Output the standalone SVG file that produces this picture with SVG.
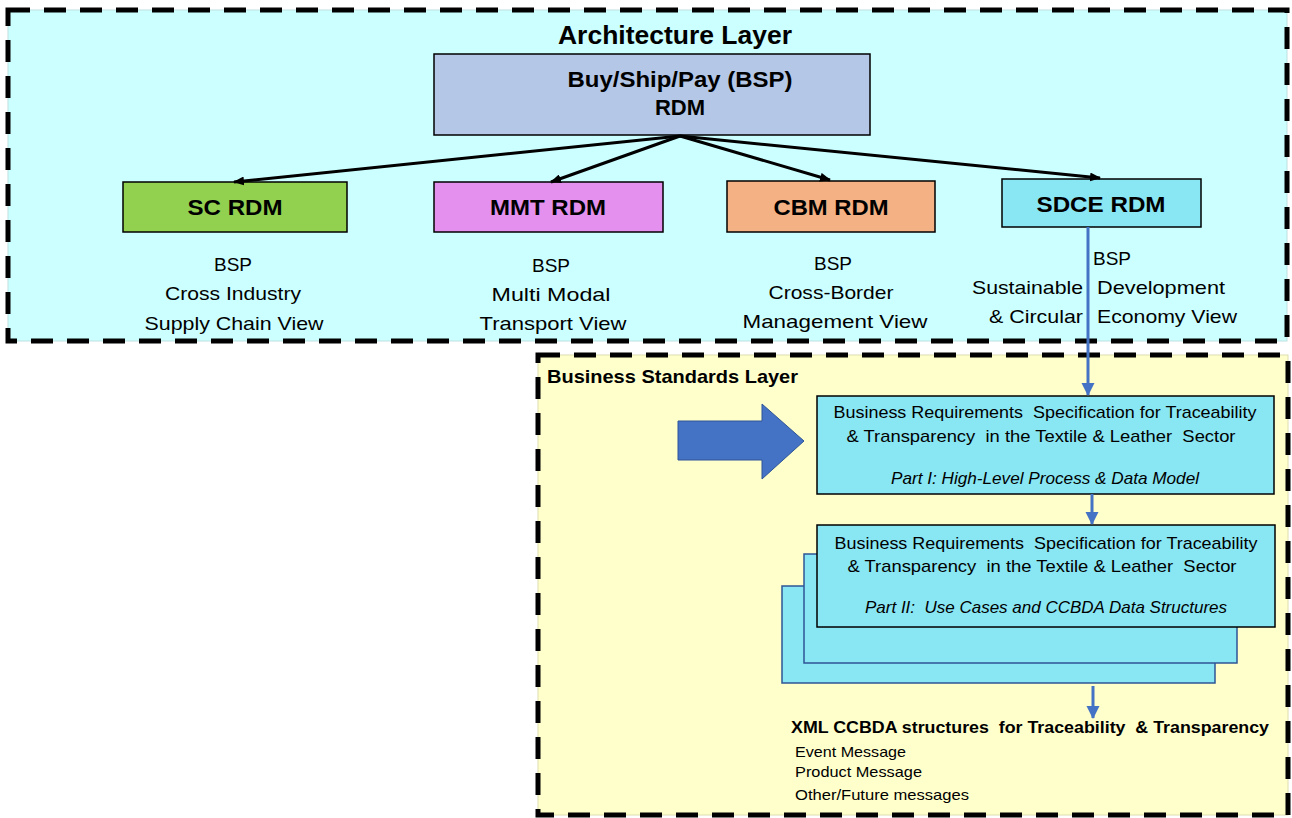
<svg xmlns="http://www.w3.org/2000/svg" width="1292" height="818" viewBox="0 0 1292 818">
<style>
.layer{stroke:#000;stroke-width:5;stroke-dasharray:22 14;}
.cal{font-family:"Liberation Sans",Arial,sans-serif;fill:#000;}
.calb{font-family:"Liberation Sans",Arial,sans-serif;font-weight:bold;fill:#000;}
.box{stroke:#000;stroke-width:1.5;}
.lbl{font-family:"Liberation Sans",Arial,sans-serif;font-weight:bold;font-size:22px;fill:#000;text-anchor:middle;}
.nar{font-family:"Liberation Sans Narrow","Liberation Sans",Arial,sans-serif;font-size:17px;fill:#000;white-space:pre;}
.view{font-size:19px;text-anchor:middle;}
.msg{font-size:15px;}
.cyan{fill:#89E6F3;}
</style>
<defs>
<marker id="ak" markerWidth="11" markerHeight="9" refX="10" refY="4.5" orient="auto" markerUnits="userSpaceOnUse">
<path d="M0,0 L11,4.5 L0,9 z" fill="#000"/>
</marker>
<marker id="ab" markerWidth="13" markerHeight="14" refX="12" refY="6.5" orient="auto" markerUnits="userSpaceOnUse">
<path d="M0,0 L13,6.5 L0,13 z" fill="#4472C4"/>
</marker>
</defs>

<g id="architecture-layer">
<rect x="8" y="10" width="1279" height="331" fill="#CCFFFF" stroke="#BFE0E0" stroke-width="1"/>
<rect x="8" y="10" width="1279" height="331" fill="none" class="layer"/>
<text x="675" y="44" class="calb" font-size="26" text-anchor="middle" textLength="234" lengthAdjust="spacingAndGlyphs">Architecture Layer</text>
</g>

<g id="business-layer">
<rect x="538" y="355" width="750" height="460" fill="#FFFFCC" stroke="#DDDDB0" stroke-width="1"/>
<rect x="538" y="355" width="750" height="460" fill="none" class="layer"/>
<text x="547" y="383" class="calb" font-size="19" textLength="251" lengthAdjust="spacingAndGlyphs">Business Standards Layer</text>
</g>

<g id="bsp-rdm">
<rect x="434" y="54" width="436" height="81" fill="#B4C7E7" class="box"/>
<text x="680" y="87" class="lbl" textLength="225" lengthAdjust="spacingAndGlyphs">Buy/Ship/Pay (BSP)</text>
<text x="680" y="115" class="lbl">RDM</text>
</g>

<g id="sc-rdm">
<rect x="123" y="182" width="224" height="50" fill="#92D050" class="box"/>
<text x="235" y="215" class="lbl" textLength="95" lengthAdjust="spacingAndGlyphs">SC RDM</text>
<g class="cal view">
<text x="233" y="271">BSP</text>
<text x="233" y="300" textLength="136" lengthAdjust="spacingAndGlyphs">Cross Industry</text>
<text x="234" y="330" textLength="179" lengthAdjust="spacingAndGlyphs">Supply Chain View</text>
</g>
</g>

<g id="mmt-rdm">
<rect x="434" y="182" width="229" height="50" fill="#E390EE" class="box"/>
<text x="548" y="215" class="lbl" textLength="116" lengthAdjust="spacingAndGlyphs">MMT RDM</text>
<g class="cal view">
<text x="551" y="272">BSP</text>
<text x="551" y="301" textLength="119" lengthAdjust="spacingAndGlyphs">Multi Modal</text>
<text x="553" y="330" textLength="147" lengthAdjust="spacingAndGlyphs">Transport View</text>
</g>
</g>

<g id="cbm-rdm">
<rect x="727" y="181" width="208" height="51" fill="#F4B183" class="box"/>
<text x="831" y="215" class="lbl" textLength="115" lengthAdjust="spacingAndGlyphs">CBM RDM</text>
<g class="cal view">
<text x="833" y="270">BSP</text>
<text x="831" y="299" textLength="125" lengthAdjust="spacingAndGlyphs">Cross-Border</text>
<text x="835" y="328" textLength="185" lengthAdjust="spacingAndGlyphs">Management View</text>
</g>
</g>

<g id="sdce-rdm">
<rect x="1002" y="179" width="199" height="48" fill="#89E6F3" class="box"/>
<text x="1101" y="212" class="lbl" textLength="129" lengthAdjust="spacingAndGlyphs">SDCE RDM</text>
<g class="cal" font-size="19">
<text x="1093" y="265">BSP</text>
<text x="1083" y="294" text-anchor="end" textLength="111" lengthAdjust="spacingAndGlyphs">Sustainable</text>
<text x="1097" y="294" textLength="128" lengthAdjust="spacingAndGlyphs">Development</text>
<text x="1083" y="323" text-anchor="end" textLength="94" lengthAdjust="spacingAndGlyphs">&amp; Circular</text>
<text x="1097" y="323" textLength="140" lengthAdjust="spacingAndGlyphs">Economy View</text>
</g>
</g>

<g id="block-arrow">
<path d="M678,421 L762,421 L762,404 L804,441 L762,479 L762,460 L678,460 z" fill="#4472C4" stroke="#2F5597" stroke-width="1"/>
</g>

<g id="part1">
<rect x="817" y="396" width="457" height="98" class="cyan box"/>
<text x="1045" y="418" class="nar" text-anchor="middle" textLength="423" lengthAdjust="spacingAndGlyphs">Business Requirements  Specification for Traceability</text>
<text x="1041" y="442" class="nar" text-anchor="middle" textLength="389" lengthAdjust="spacingAndGlyphs">&amp; Transparency  in the Textile &amp; Leather  Sector</text>
<text x="1045" y="484" class="nar" font-style="italic" text-anchor="middle" textLength="308" lengthAdjust="spacingAndGlyphs">Part I: High-Level Process &amp; Data Model</text>
</g>

<g id="part2">
<rect x="782" y="586" width="433" height="97" class="cyan" stroke="#2F5597" stroke-width="1.5"/>
<rect x="804" y="554" width="433" height="109" class="cyan" stroke="#2F5597" stroke-width="1.5"/>
<rect x="817" y="525" width="458" height="102" class="cyan box"/>
<text x="1046" y="549" class="nar" text-anchor="middle" textLength="423" lengthAdjust="spacingAndGlyphs">Business Requirements  Specification for Traceability</text>
<text x="1042" y="572" class="nar" text-anchor="middle" textLength="389" lengthAdjust="spacingAndGlyphs">&amp; Transparency  in the Textile &amp; Leather  Sector</text>
<text x="1046" y="613" class="nar" font-style="italic" text-anchor="middle" textLength="362" lengthAdjust="spacingAndGlyphs">Part II:  Use Cases and CCBDA Data Structures</text>
</g>

<g id="xml-structures">
<text x="791" y="733" class="nar" font-weight="bold" textLength="478" lengthAdjust="spacingAndGlyphs">XML CCBDA structures  for Traceability  &amp; Transparency</text>
<g class="cal msg">
<text x="795" y="757" textLength="111" lengthAdjust="spacingAndGlyphs">Event Message</text>
<text x="795" y="777" textLength="127" lengthAdjust="spacingAndGlyphs">Product Message</text>
<text x="795" y="800" textLength="174" lengthAdjust="spacingAndGlyphs">Other/Future messages</text>
</g>
</g>

<g id="connectors" fill="none">
<g stroke="#000" stroke-width="3" marker-end="url(#ak)">
<line x1="680" y1="136" x2="234" y2="182"/>
<line x1="680" y1="136" x2="551" y2="182"/>
<line x1="680" y1="136" x2="830" y2="180"/>
<line x1="680" y1="136" x2="1100" y2="178"/>
</g>
<g stroke="#4472C4" stroke-width="3" marker-end="url(#ab)">
<line x1="1088" y1="227" x2="1088" y2="395"/>
<line x1="1092" y1="494" x2="1092" y2="524"/>
<line x1="1093" y1="686" x2="1093" y2="718"/>
</g>
</g>
</svg>
